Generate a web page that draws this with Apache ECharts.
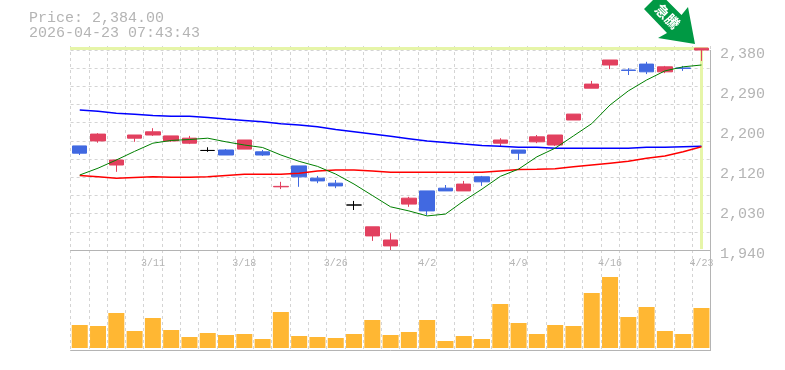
<!DOCTYPE html>
<html><head><meta charset="utf-8">
<style>html,body{margin:0;padding:0;background:#fff}#c{width:785px;height:370px}</style>
<script src="https://cdn.jsdelivr.net/npm/echarts@6/dist/echarts.min.js"></script>
</head><body><div id="c"></div>
<script>
const dates = ['3/5','3/6','3/9','3/10','3/11','3/12','3/13','3/16','3/17','3/18','3/19','3/23','3/24','3/25','3/26','3/27','3/30','3/31','4/1','4/2','4/3','4/6','4/7','4/8','4/9','4/10','4/13','4/14','4/15','4/16','4/17','4/20','4/21','4/22','4/23'];
const opens  = [2169,2180,2127,2186,2193,2180,2175,2159,2160,2162,2156,2079,2125,2098,2087,2039,1971,1949,2041,2070,2076,2070,2101,2175,2160,2178,2171,2226,2296,2347,2336,2349,2332,2340.5,2380];
const closes = [2153,2195,2138,2193,2200,2191,2186,2159,2149,2182,2149,2080,2101,2092,2081,2039,1991,1962,2054,2026,2070,2085,2090,2182,2153,2189,2193,2239,2305,2358,2335,2332,2343,2339.5,2384];
const lows   = [2149,2176,2112,2178,2191,2178,2173,2156,2149,2162,2147,2074,2079,2087,2076,2028,1960,1940,2035,2017,2070,2070,2081,2167,2138,2175,2169,2226,2296,2338,2325,2327,2329,2334,2356];
const highs  = [2169,2197,2140,2193,2208,2191,2191,2166,2162,2182,2160,2090,2125,2103,2094,2048,1991,1977,2057,2070,2083,2092,2103,2186,2160,2193,2193,2239,2312,2358,2340,2354,2345,2345,2384];
const ma5  = [2105,2120,2138,2157,2175,2181,2183,2186,2178,2171,2165.5,2149,2135,2124,2107,2085,2060,2035,2026,2015,2019,2048,2074,2102,2118,2145,2164,2191,2218,2259,2290,2314,2334,2343,2347];
const ma25 = [2104,2101,2098,2099.5,2101,2100,2100,2101,2104,2106.5,2106.5,2106.5,2109,2114,2116,2116,2114,2111,2111,2111,2111,2111,2111,2114,2117,2117.5,2119,2123,2127,2131,2135,2142,2147,2156,2167];
const ma75 = [2248,2245,2241,2238.5,2236,2234,2234,2231.5,2228,2225,2222,2218,2215,2211,2205,2200,2195,2190,2185,2180,2176.5,2173,2170,2168,2166,2166,2164,2164,2164,2164,2164,2166,2166,2167,2168];
const volumes = [23,22,35,17,30,18,11,15,13,14,9,36,12,11,10,14,28,13,16,28,7,12,9,44,25,14,23,22,55,71,31,41,17,14,40];
const gridValues = [1940,1980,2020,2060,2100,2140,2180,2220,2260,2300,2340,2380];
const labelValues = [1940,2028,2116,2204,2292,2380];
const tickLabels = {1940:'1,940',2028:'2,030',2116:'2,120',2204:'2,200',2292:'2,290',2380:'2,380'};
const priceText = 'Price: 2,384.00';
const timeText = '2026-04-23 07:43:43';
const badgeText = '\u6025\u9a30';
const currentPrice = 2384;

const RED='#e2405f', BLUE='#4169e1', BLACK='#000000', GREY='#b4b4b4', GRID='#d4d4d4', BAND='#e6f5a8';
const MONO='"Liberation Mono","DejaVu Sans Mono",monospace';

const candleData = dates.map((d,i)=>{
  const c = opens[i]===closes[i] ? BLACK : (closes[i]>opens[i] ? RED : BLUE);
  return {value:[opens[i],closes[i],lows[i],highs[i]],
          itemStyle:{color:c,color0:c,borderColor:c,borderColor0:c,borderWidth:1}};
});
const maSeries=(name,data,color,width)=>({name,type:'line',data,xAxisIndex:0,yAxisIndex:0,symbol:'none',
  smooth:false,silent:true,z:5,lineStyle:{color,width}});

const splitX={show:true,interval:0,lineStyle:{color:GRID,type:[3,3],width:1}};
const chart=echarts.init(document.getElementById('c'),null,{renderer:'canvas'});
chart.setOption({
  animation:false,
  backgroundColor:'#fff',
  grid:[{left:70.6,top:46,width:640,height:204},{left:70.6,top:250,width:640,height:100}],
  xAxis:[
    {type:'category',gridIndex:0,data:dates,boundaryGap:true,axisLine:{show:true,onZero:false,lineStyle:{color:GREY,width:1}},axisTick:{show:false},axisLabel:{show:false},splitLine:splitX},
    {type:'category',gridIndex:1,data:dates,boundaryGap:true,axisLine:{show:true,onZero:false,lineStyle:{color:GREY,width:1}},axisTick:{show:false},
     axisLabel:{show:false},splitLine:splitX},
    {type:'category',gridIndex:1,data:dates,position:'top',boundaryGap:true,axisLine:{show:false},axisTick:{show:false},splitLine:{show:false},
     z:10,axisLabel:{show:true,inside:true,margin:8,hideOverlap:false,interval:(i)=>i%5===4,color:GREY,fontFamily:MONO,fontSize:10}}
  ],
  yAxis:[
    {type:'value',gridIndex:0,position:'right',min:1940,max:2388.8,scale:true,
     axisLine:{show:false},axisTick:{show:false,customValues:gridValues},
     axisLabel:{show:true,customValues:labelValues,margin:9.4,verticalAlign:'top',lineHeight:8,color:GREY,fontFamily:MONO,fontSize:15,formatter:(v)=>tickLabels[v]||''},
     splitLine:{show:true,lineStyle:{color:GRID,type:[3,3],width:1}}},
    {type:'value',gridIndex:1,min:-2,max:98,axisLine:{show:false},axisTick:{show:false},axisLabel:{show:false},splitLine:{show:false}},
    {type:'value',gridIndex:1,min:-2,max:98,axisLine:{show:false},axisTick:{show:false},axisLabel:{show:false},splitLine:{show:false}}
  ],
  series:[
    {name:'Price',type:'candlestick',xAxisIndex:0,yAxisIndex:0,data:candleData,barWidth:15,z:3,silent:true,
     markLine:{silent:true,symbol:'none',animation:false,label:{show:false},z:2,
       lineStyle:{color:BAND,width:3,type:'solid'},
       data:[[{coord:[dates[0],currentPrice],x:70},{coord:[dates[34],currentPrice],x:708}],
             [{coord:[dates[34],currentPrice]},{coord:[dates[34],1942]}]]}},
    maSeries('MA75',ma75,'#0000ff',1.5),
    maSeries('MA25',ma25,'#ff0000',1.5),
    maSeries('MA5',ma5,'#008000',1),
    {name:'Volume',type:'bar',xAxisIndex:1,yAxisIndex:1,data:volumes,barWidth:16,silent:true,itemStyle:{color:'#ffb733'}}
  ],
  graphic:[
    {type:'text',left:29,top:11,silent:true,style:{text:priceText,fill:GREY,font:'15px '+MONO}},
    {type:'text',left:29,top:26,silent:true,style:{text:timeText,fill:GREY,font:'15px '+MONO}},
    {type:'line',silent:true,z:6,shape:{x1:710.5,y1:50,x2:710.5,y2:350},style:{stroke:GREY,lineWidth:1}},
    {type:'polygon',silent:true,z:20,shape:{points:[[644,9],[667,33],[658,38],[695,44],[688,7],[681.5,15],[666.5,0],[653,0]]},style:{fill:'#009944'}},
    {type:'text',silent:true,z:21,x:667.5,y:16.5,rotation:-Math.PI/4,style:{text:badgeText,fill:'#fff',font:'bold 14px "Noto Sans CJK JP"',align:'center',verticalAlign:'middle'}}
  ]
});
</script></body></html>
